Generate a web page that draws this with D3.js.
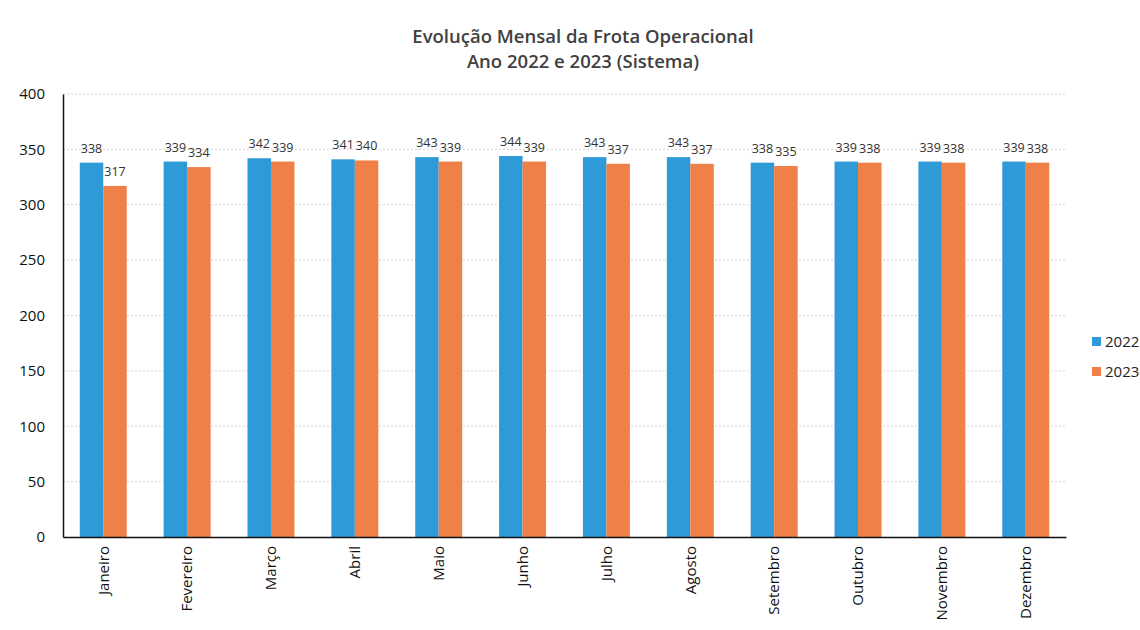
<!DOCTYPE html>
<html>
<head>
<meta charset="UTF-8">
<title>Evolução Mensal da Frota Operacional</title>
<style>
  body { margin: 0; background: #fff; }
  text { font-family: "Open Sans", "Noto Sans", sans-serif; }
</style>
</head>
<body>
<div id="chart"></div>
<script src="https://cdn.jsdelivr.net/npm/d3@7"></script>
<script>
// dados
const meses = ["Janeiro", "Fevereiro", "Março", "Abril", "Maio", "Junho", "Julho", "Agosto", "Setembro", "Outubro", "Novembro", "Dezembro"];
const anos = ["2022", "2023"];
const frota2022 = [338, 339, 342, 341, 343, 344, 343, 343, 338, 339, 339, 339];
const frota2023 = [317, 334, 339, 340, 339, 339, 337, 337, 335, 338, 338, 338];
const yTicks = [0, 50, 100, 150, 200, 250, 300, 350, 400];
const cores = ["#2f9ad8", "#ef8048"];

const W = 1140, H = 630;
const margin = { left: 63, right: 74, top: 94, bottom: 93 };

const svg = d3.select("#chart").append("svg")
    .attr("width", W)
    .attr("height", H);

const x = d3.scaleBand().domain(meses)
    .range([margin.left, W - margin.right])
    .paddingInner(0.44).paddingOuter(0.2);
const xs = d3.scaleBand().domain(anos).range([0, x.bandwidth()]);
const y = d3.scaleLinear().domain([0, 400]).range([H - margin.bottom, margin.top]);

// titulo
svg.append("text").attr("x", 583).attr("y", 43).attr("text-anchor", "middle")
    .attr("font-size", 18.5).attr("font-weight", 600).attr("fill", "#404040")
    .text("Evolução Mensal da Frota Operacional");
svg.append("text").attr("x", 583).attr("y", 68).attr("text-anchor", "middle")
    .attr("font-size", 18.5).attr("font-weight", 600).attr("fill", "#404040")
    .text("Ano 2022 e 2023 (Sistema)");

// grade
svg.append("g").selectAll("line").data(yTicks.slice(1)).enter().append("line")
    .attr("x1", margin.left).attr("x2", W - margin.right)
    .attr("y1", d => y(d)).attr("y2", d => y(d))
    .attr("stroke", "#d4d4d4").attr("stroke-dasharray", "2,2");

// eixo y
const yAxis = svg.append("g").attr("transform", `translate(${margin.left},0)`)
    .call(d3.axisLeft(y).tickValues(yTicks).tickSize(0).tickPadding(18));
yAxis.select(".domain").attr("stroke", "#111").attr("stroke-width", 1.5);
yAxis.selectAll("text").attr("font-size", 15).attr("fill", "#111")
    .style("font-family", "'Open Sans', sans-serif");

// barras
const series = [frota2022, frota2023];
const grupos = svg.append("g").selectAll("g").data(meses).enter().append("g")
    .attr("transform", d => `translate(${x(d)},0)`);

grupos.selectAll("rect").data((m, i) => anos.map((a, k) => ({ ano: a, v: series[k][i], k })))
    .enter().append("rect")
    .attr("x", d => xs(d.ano))
    .attr("width", xs.bandwidth())
    .attr("y", d => y(d.v))
    .attr("height", d => y(0) - y(d.v))
    .attr("fill", d => cores[d.k]);

grupos.selectAll("text").data((m, i) => anos.map((a, k) => ({ ano: a, v: series[k][i], k })))
    .enter().append("text")
    .attr("x", d => xs(d.ano) + xs.bandwidth() / 2)
    .attr("y", d => y(d.v) - 10)
    .attr("text-anchor", "middle")
    .attr("font-size", 12.5).attr("fill", "#333")
    .text(d => d.v);

// eixo x
const xAxis = svg.append("g").attr("transform", `translate(0,${y(0)})`)
    .call(d3.axisBottom(x).tickSize(0).tickSizeOuter(0));
xAxis.select(".domain").attr("stroke", "#111").attr("stroke-width", 1.5);
xAxis.selectAll("text")
    .attr("font-size", 15).attr("fill", "#111")
    .style("font-family", "'Open Sans', sans-serif")
    .attr("transform", "rotate(-90)")
    .attr("text-anchor", "end")
    .attr("x", -9).attr("y", 0).attr("dy", "0.35em");

// legenda
const leg = svg.append("g").selectAll("g").data(anos).enter().append("g")
    .attr("transform", (d, i) => `translate(1092,${342 + i * 30})`);
leg.append("rect").attr("x", 0).attr("y", -5).attr("width", 9).attr("height", 9)
    .attr("fill", (d, i) => cores[i]);
leg.append("text").attr("x", 13).attr("y", 0).attr("dy", "0.35em")
    .attr("font-size", 15).attr("fill", "#222").text(d => d);
</script>
</body>
</html>
